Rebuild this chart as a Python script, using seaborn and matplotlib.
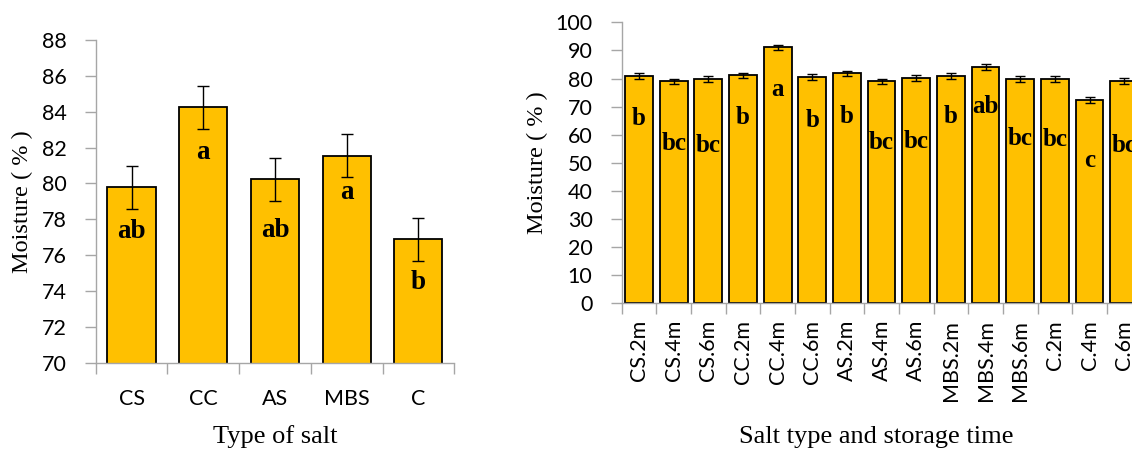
import numpy as np
import pandas as pd
import matplotlib
matplotlib.use("Agg")
import matplotlib.pyplot as plt
import seaborn as sns

# ---- data: left panel (type of salt) ----
salt_types = ["CS", "CC", "AS", "MBS", "C"]
salt_moisture = [79.8, 84.25, 80.23, 81.55, 76.9]
salt_err = [1.2, 1.2, 1.2, 1.2, 1.2]
salt_letters = ["ab", "a", "ab", "a", "b"]
salt_letter_y = [77.3, 81.7, 77.4, 79.5, 74.5]

# ---- data: right panel (salt type and storage time) ----
storage_groups = ["CS.2m", "CS.4m", "CS.6m", "CC.2m", "CC.4m", "CC.6m",
                  "AS.2m", "AS.4m", "AS.6m", "MBS.2m", "MBS.4m", "MBS.6m",
                  "C.2m", "C.4m", "C.6m"]
storage_moisture = [80.8, 79.0, 79.8, 81.1, 91.1, 80.6, 81.8, 79.0, 80.2,
                    80.8, 84.1, 79.9, 79.8, 72.3, 79.1]
storage_err = [1.0, 1.0, 1.0, 1.0, 1.0, 1.0, 1.0, 1.0, 1.0,
               1.0, 1.0, 1.0, 1.0, 1.0, 1.0]
storage_letters = ["b", "bc", "bc", "b", "a", "b", "b", "bc", "bc",
                   "b", "ab", "bc", "bc", "c", "bc"]
storage_letter_y = [65.8, 56.9, 56.0, 66.1, 76.0, 65.2, 66.4, 57.1, 57.5,
                    66.4, 70.1, 58.7, 58.3, 50.8, 56.3]

left_ticks = [70, 72, 74, 76, 78, 80, 82, 84, 86, 88]
right_ticks = [0, 10, 20, 30, 40, 50, 60, 70, 80, 90, 100]

sns.set_style("white")
plt.rcParams["font.family"] = ["Lato", "DejaVu Sans"]
plt.rcParams["text.color"] = "black"
plt.rcParams["axes.labelcolor"] = "black"
plt.rcParams["xtick.color"] = "black"
plt.rcParams["ytick.color"] = "black"

BAR = "#FFC000"
SPINE = "#A6A6A6"
SERIF = "Liberation Serif"

fig = plt.figure(figsize=(11.32, 4.5), dpi=100)
axL = fig.add_axes([0.0845, 0.194, 0.3168, 0.717])
axR = fig.add_axes([0.5492, 0.326, 0.4592, 0.6244])


def style_axis(ax, n, yticks, ylim, tick_fs, xpad, rot):
    ax.set_ylim(*ylim)
    ax.set_xlim(-0.5, n - 0.5)
    ax.set_yticks(yticks)
    ax.set_yticklabels([str(t) for t in yticks], fontsize=tick_fs)
    ax.set_xticks(np.arange(n + 1) - 0.5, minor=True)
    ax.tick_params(axis="x", which="major", length=0, pad=xpad,
                   labelsize=tick_fs, labelrotation=rot, labelcolor="black")
    ax.tick_params(axis="x", which="minor", length=8, width=1, color=SPINE,
                   direction="out", bottom=True)
    ax.tick_params(axis="y", which="major", length=8, width=1, color=SPINE,
                   direction="out", left=True, pad=13, labelcolor="black")
    for s in ["top", "right"]:
        ax.spines[s].set_visible(False)
    for s in ["left", "bottom"]:
        ax.spines[s].set_color(SPINE)
        ax.spines[s].set_linewidth(1)
    ax.grid(False)


# ---- left panel ----
dfL = pd.DataFrame({"salt": salt_types, "moisture": salt_moisture})
sns.barplot(data=dfL, x="salt", y="moisture", ax=axL, color=BAR,
            saturation=1, edgecolor="black", linewidth=1.3, width=0.67,
            errorbar=None, order=salt_types)
axL.errorbar(np.arange(len(salt_types)), salt_moisture, yerr=salt_err,
             fmt="none", ecolor="black", elinewidth=1.0, capsize=4.3,
             capthick=1.0, zorder=5)
for i, (lab, ly) in enumerate(zip(salt_letters, salt_letter_y)):
    axL.text(i, ly, lab, ha="center", va="center", fontsize=19.5,
             fontweight="bold", family=SERIF, color="black", zorder=6)
style_axis(axL, len(salt_types), left_ticks, (70, 88), 15.5, 19, 0)
axL.set_xlabel("Type of salt", fontsize=19, family=SERIF, va="center",
               color="black")
axL.xaxis.set_label_coords(0.5, -0.229)
axL.set_ylabel("Moisture ( % )", fontsize=17.5, family=SERIF, va="center",
               color="black")
axL.yaxis.set_label_coords(-0.2055, 0.5)

# ---- right panel ----
dfR = pd.DataFrame({"group": storage_groups, "moisture": storage_moisture})
sns.barplot(data=dfR, x="group", y="moisture", ax=axR, color=BAR,
            saturation=1, edgecolor="black", linewidth=1.3, width=0.8,
            errorbar=None, order=storage_groups)
axR.errorbar(np.arange(len(storage_groups)), storage_moisture,
             yerr=storage_err, fmt="none", ecolor="black", elinewidth=1.0,
             capsize=3.6, capthick=1.0, zorder=5)
for i, (lab, ly) in enumerate(zip(storage_letters, storage_letter_y)):
    axR.text(i, ly, lab, ha="center", va="center", fontsize=18,
             fontweight="bold", family=SERIF, color="black", zorder=6,
             clip_on=False)
style_axis(axR, len(storage_groups), right_ticks, (0, 100), 15.5, 12, 90)
axR.set_xlabel("Salt type and storage time", fontsize=19, family=SERIF,
               va="center", color="black")
axR.xaxis.set_label_coords(0.4906, -0.475)
axR.set_ylabel("Moisture ( % )", fontsize=17.5, family=SERIF, va="center",
               color="black")
axR.yaxis.set_label_coords(-0.163, 0.5)

fig.savefig("out.png", dpi=100)
